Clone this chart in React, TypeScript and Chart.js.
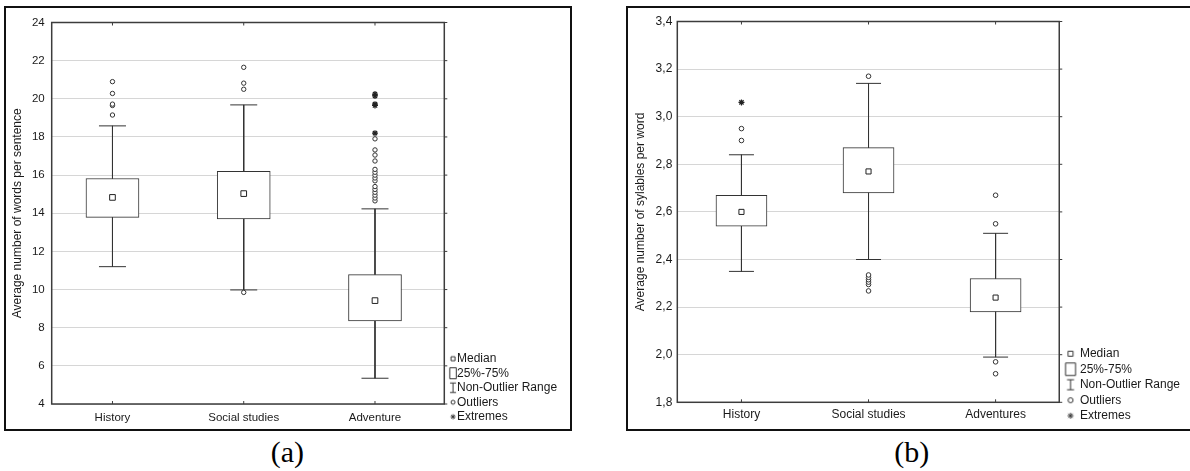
import React, { useEffect, useRef } from 'react';
import { Chart, registerables } from 'chart.js';

Chart.register(...registerables);

// ---------------- panel (a) data ----------------
const categoriesA = ['History', 'Social studies', 'Adventure'];
const medianA = [14.83, 15.03, 9.42];
const q1A = [13.78, 13.7, 8.35];
const q3A = [15.82, 16.2, 10.78];
const lowA = [11.2, 9.98, 5.35];
const highA = [18.58, 19.68, 14.23];
const outliersHistoryA = [19.15, 19.65, 19.72, 20.28, 20.9];
const outliersSocialA = [9.85, 20.5, 20.82, 21.65];
const outliersAdventureA = [14.65, 14.8, 14.95, 15.1, 15.25, 15.4, 15.7, 15.85, 16.0, 16.15, 16.3, 16.74, 17.05, 17.32, 17.9];
const extremesAdventureA = [18.2, 19.65, 19.72, 20.15, 20.25];
const yTicksA = [4, 6, 8, 10, 12, 14, 16, 18, 20, 22, 24];
const yTickLabelsA = ['4', '6', '8', '10', '12', '14', '16', '18', '20', '22', '24'];
const yTitleA = 'Average number of words per sentence';

// ---------------- panel (b) data ----------------
const categoriesB = ['History', 'Social studies', 'Adventures'];
const medianB = [2.6, 2.77, 2.24];
const q1B = [2.54, 2.68, 2.18];
const q3B = [2.67, 2.87, 2.32];
const lowB = [2.35, 2.4, 1.99];
const highB = [2.84, 3.14, 2.51];
const outliersHistoryB = [2.9, 2.95];
const extremesHistoryB = [3.06];
const outliersSocialB = [2.268, 2.295, 2.305, 2.315, 2.325, 2.335, 3.17];
const outliersAdventuresB = [1.92, 1.97, 2.55, 2.67];
const yTicksB = [1.8, 2.0, 2.2, 2.4, 2.6, 2.8, 3.0, 3.2, 3.4];
const yTickLabelsB = ['1,8', '2,0', '2,2', '2,4', '2,6', '2,8', '3,0', '3,2', '3,4'];
const yTitleB = 'Average number of sylables per word';

const legendTexts = ['Median', '25%-75%', 'Non-Outlier Range', 'Outliers', 'Extremes'];

const panelA = {
  categories: categoriesA, median: medianA, q1: q1A, q3: q3A, low: lowA, high: highA,
  outliers: [outliersHistoryA, outliersSocialA, outliersAdventureA],
  extremes: [[], [], extremesAdventureA],
  yTicks: yTicksA, yTickLabels: yTickLabelsA, yTitle: yTitleA,
};
const panelB = {
  categories: categoriesB, median: medianB, q1: q1B, q3: q3B, low: lowB, high: highB,
  outliers: [outliersHistoryB, outliersSocialB, outliersAdventuresB],
  extremes: [extremesHistoryB, [], []],
  yTicks: yTicksB, yTickLabels: yTickLabelsB, yTitle: yTitleB,
};

const FONT = "'Liberation Sans', Arial, sans-serif";
const INK = '#333';
const TEXT = '#1a1a1a';

const styleA = {
  width: 564, height: 421, frameLeft: 4, frameTop: 6, frameW: 568, frameH: 425,
  padL: 0, padT: 13, padB: 3.8, plotRight: 438.3,
  yAxisW: 45.7, xAxisH: 21.2,
  xMin: 0.537, xMax: 3.528,
  tickFont: 11.5, catFont: 11.5, titleFont: 12, legendFont: 12,
  yTickPad: 7, xTickPad: 7,
  legendPad: 2.5, pointStyleWidth: 4.2, iconCx: 19.1,
  icon: { median: 4, boxW: 6.5, boxH: 11, ibW: 6, ibH: 9.5, circleR: 2, starR: 2.5 },
  boxW: 53, capR: 13.5, medianR: 4, outlierR: 2.2, extremeR: 3,
};
const styleB = {
  width: 562, height: 421, frameLeft: 626, frameTop: 6, frameW: 566, frameH: 425,
  padL: 1.6, padT: 13, padB: 3.8, plotRight: 433,
  yAxisW: 47.7, xAxisH: 22.9,
  xMin: 0.495, xMax: 3.501,
  tickFont: 12, catFont: 12, titleFont: 12, legendFont: 12,
  yTickPad: 5, xTickPad: 5.5,
  legendPad: 3.5, pointStyleWidth: 11.2, iconCx: 17.2,
  icon: { median: 5, boxW: 10, boxH: 12.5, ibW: 7, ibH: 10, circleR: 2.5, starR: 3 },
  boxW: 51, capR: 12.5, medianR: 3.6, outlierR: 2.3, extremeR: 3,
};

function makeIcon(kind: string, st: any): HTMLCanvasElement {
  const c = document.createElement('canvas');
  c.width = 30;
  c.height = 18;
  const g = c.getContext('2d')!;
  g.strokeStyle = INK;
  g.fillStyle = '#fff';
  g.lineWidth = 1;
  const cx = st.iconCx;
  const cy = 9;
  const ic = st.icon;
  g.beginPath();
  if (kind === 'median') {
    g.rect(cx - ic.median / 2, cy - ic.median / 2, ic.median, ic.median);
  } else if (kind === 'box') {
    g.rect(cx - ic.boxW / 2, cy - ic.boxH / 2, ic.boxW, ic.boxH);
  } else if (kind === 'range') {
    g.moveTo(cx - ic.ibW / 2, cy - ic.ibH / 2);
    g.lineTo(cx + ic.ibW / 2, cy - ic.ibH / 2);
    g.moveTo(cx, cy - ic.ibH / 2);
    g.lineTo(cx, cy + ic.ibH / 2);
    g.moveTo(cx - ic.ibW / 2, cy + ic.ibH / 2);
    g.lineTo(cx + ic.ibW / 2, cy + ic.ibH / 2);
  } else if (kind === 'outlier') {
    g.arc(cx, cy, ic.circleR, 0, Math.PI * 2);
  } else {
    const r = ic.starR;
    g.moveTo(cx - r, cy); g.lineTo(cx + r, cy);
    g.moveTo(cx, cy - r); g.lineTo(cx, cy + r);
    const d = r * 0.72;
    g.moveTo(cx - d, cy - d); g.lineTo(cx + d, cy + d);
    g.moveTo(cx - d, cy + d); g.lineTo(cx + d, cy - d);
  }
  if (kind !== 'range' && kind !== 'extreme') g.fill();
  g.stroke();
  return c;
}

// natural width of the Chart.js vertical legend, so the plot's right edge lands where wanted
function legendWidth(st: any): number {
  const c = document.createElement('canvas');
  const g = c.getContext('2d')!;
  g.font = `normal ${st.legendFont}px ${FONT}`;
  const maxText = Math.max(...legendTexts.map((t) => g.measureText(t).width));
  return st.legendPad + st.pointStyleWidth + st.legendFont / 2 + maxText + 10;
}

const framePlugin = {
  id: 'plotFrame',
  afterDraw(chart: any) {
    const { ctx, chartArea } = chart;
    const { left, right, top, bottom } = chartArea;
    const xs = chart.scales.x;
    const ys = chart.scales.y;
    ctx.save();
    ctx.strokeStyle = '#3c3c3c';
    ctx.lineWidth = 1;
    ctx.beginPath();
    xs.ticks.forEach((t: any) => {
      const px = xs.getPixelForValue(t.value);
      ctx.moveTo(px, top); ctx.lineTo(px, top + 3);
      ctx.moveTo(px, bottom); ctx.lineTo(px, bottom - 3);
    });
    ys.ticks.forEach((t: any) => {
      const py = ys.getPixelForValue(t.value);
      ctx.moveTo(right, py); ctx.lineTo(right + 3, py);
    });
    ctx.stroke();
    ctx.lineWidth = 1.5;
    ctx.strokeRect(left, top, right - left, bottom - top);
    ctx.restore();
  },
};

function buildConfig(d: any, st: any): any {
  const pos = d.categories.map((_: string, i: number) => i + 1);
  const boxData = pos.map((x: number, i: number) => ({ x, y: [d.q1[i], d.q3[i]] }));
  const whiskerData: any[] = [];
  pos.forEach((x: number, i: number) => {
    whiskerData.push({ x, y: d.high[i] }, { x, y: d.q3[i] }, { x, y: null });
    whiskerData.push({ x, y: d.q1[i] }, { x, y: d.low[i] }, { x, y: null });
  });
  const capData = pos.flatMap((x: number, i: number) => [{ x, y: d.high[i] }, { x, y: d.low[i] }]);
  const medianData = pos.map((x: number, i: number) => ({ x, y: d.median[i] }));
  const outlierData = pos.flatMap((x: number, i: number) => d.outliers[i].map((y: number) => ({ x, y })));
  const extremeData = pos.flatMap((x: number, i: number) => d.extremes[i].map((y: number) => ({ x, y })));

  const icons = ['median', 'box', 'range', 'outlier', 'extreme'].map((k) => makeIcon(k, st));
  const padR = Math.max(0, st.width - st.plotRight - legendWidth(st));

  return {
    type: 'bar',
    data: {
      datasets: [
        { type: 'scatter', label: 'Median', data: medianData, pointStyle: 'rect', pointRadius: st.medianR,
          pointBackgroundColor: '#fff', pointBorderColor: '#222', pointBorderWidth: 1 },
        { type: 'scatter', label: 'Outliers', data: outlierData, pointStyle: 'circle', pointRadius: st.outlierR,
          pointBackgroundColor: '#fff', pointBorderColor: '#333', pointBorderWidth: 1 },
        { type: 'scatter', label: 'Extremes', data: extremeData, pointStyle: 'star', pointRadius: st.extremeR,
          pointBackgroundColor: '#fff', pointBorderColor: '#222', pointBorderWidth: 1.2 },
        { type: 'scatter', label: 'caps', data: capData, pointStyle: 'line', pointRadius: st.capR,
          pointBorderColor: INK, pointBorderWidth: 1 },
        { type: 'line', label: 'Non-Outlier Range', data: whiskerData, borderColor: INK, borderWidth: 1,
          pointRadius: 0, spanGaps: false, fill: false },
        { type: 'bar', label: '25%-75%', data: boxData, backgroundColor: '#fff', borderColor: INK,
          borderWidth: 1, barThickness: st.boxW, borderSkipped: false },
      ],
    },
    options: {
      responsive: false,
      animation: false,
      events: [],
      layout: { padding: { left: st.padL, right: padR, top: st.padT, bottom: st.padB } },
      scales: {
        x: {
          type: 'linear',
          offset: false,
          min: st.xMin,
          max: st.xMax,
          afterBuildTicks: (sc: any) => { sc.ticks = pos.map((v: number) => ({ value: v })); },
          afterFit: (sc: any) => { sc.height = st.xAxisH; },
          ticks: {
            autoSkip: false, maxRotation: 0, padding: st.xTickPad, color: TEXT,
            font: { family: FONT, size: st.catFont },
            callback: (v: number) => d.categories[Math.round(v) - 1],
          },
          grid: { display: false, drawTicks: false, offset: false },
          border: { display: false },
        },
        y: {
          type: 'linear',
          min: d.yTicks[0],
          max: d.yTicks[d.yTicks.length - 1],
          afterBuildTicks: (sc: any) => { sc.ticks = d.yTicks.map((v: number) => ({ value: v })); },
          afterFit: (sc: any) => { sc.width = st.yAxisW; },
          ticks: {
            autoSkip: false, padding: st.yTickPad, color: TEXT,
            font: { family: FONT, size: st.tickFont },
            callback: (_v: number, i: number) => d.yTickLabels[i],
          },
          grid: { color: '#d6d6d6', lineWidth: 1, drawTicks: false },
          border: { display: false },
          title: {
            display: true, text: d.yTitle, color: TEXT,
            font: { family: FONT, size: st.titleFont },
            padding: { top: 4, bottom: 0 },
          },
        },
      },
      plugins: {
        tooltip: { enabled: false },
        legend: {
          position: 'right',
          align: 'end',
          onClick: () => {},
          labels: {
            usePointStyle: true,
            pointStyleWidth: st.pointStyleWidth,
            padding: st.legendPad,
            color: TEXT,
            font: { family: FONT, size: st.legendFont },
            generateLabels: () => legendTexts.map((text, i) => ({
              text,
              pointStyle: icons[i],
              fillStyle: '#fff',
              strokeStyle: INK,
              lineWidth: 0,
              hidden: false,
              fontColor: TEXT,
              datasetIndex: 0,
            })),
          },
        },
      },
    },
    plugins: [framePlugin],
  };
}

function BoxPanel({ data, st }: { data: any; st: any }) {
  const ref = useRef<HTMLCanvasElement>(null);
  useEffect(() => {
    const chart = new Chart(ref.current as HTMLCanvasElement, buildConfig(data, st));
    return () => chart.destroy();
  }, []);
  return (
    <div
      style={{
        position: 'absolute', left: st.frameLeft, top: st.frameTop, width: st.frameW, height: st.frameH,
        border: '2px solid #111', boxSizing: 'border-box', background: '#fff', overflow: 'hidden',
      }}
    >
      <canvas ref={ref} width={st.width} height={st.height} style={{ display: 'block', width: st.width, height: st.height }} />
    </div>
  );
}

const captionStyle: any = {
  position: 'absolute', width: 100, textAlign: 'center', fontFamily: "'Liberation Serif', 'Times New Roman', serif",
  fontSize: 30, lineHeight: '30px', color: '#000', top: 437.4,
};

export default function App() {
  return (
    <div style={{ position: 'fixed', left: 0, top: 0, width: 1190, height: 471, background: '#fff', overflow: 'hidden' }}>
      <BoxPanel data={panelA} st={styleA} />
      <BoxPanel data={panelB} st={styleB} />
      <div style={{ ...captionStyle, left: 287.3 - 50 }}>(a)</div>
      <div style={{ ...captionStyle, left: 911.7 - 50 }}>(b)</div>
    </div>
  );
}
